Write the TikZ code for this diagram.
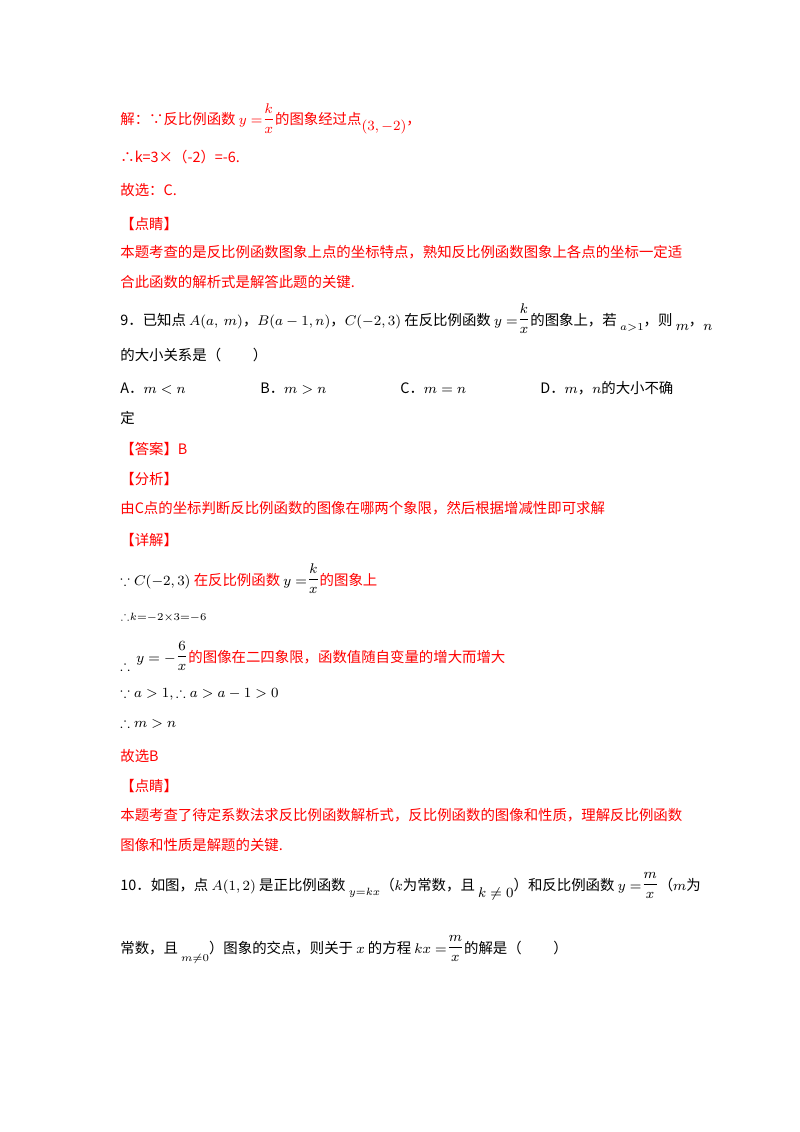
\documentclass[tikz,border=0pt]{standalone}
\usepackage{amsmath,amssymb}
\usepackage{fontspec}
\newfontfamily\cjk{Noto Sans CJK SC}
\definecolor{ans}{RGB}{255,0,0}
\newcommand{\fr}[2]{\raisebox{1pt}{$\dfrac{#1}{#2}$}}
\begin{document}
\begin{tikzpicture}[x=0.02cm,y=-0.02cm,
 txt/.style={anchor=base west,inner sep=0,font=\cjk\fontsize{8.2}{10}\selectfont},
 red/.style={txt,text=ans}]
\useasboundingbox (0,0) rectangle (800,1132);
\node[red] (l1) at (120,125) {解：∵反比例函数 $y=$\fr{k}{x}的图象经过点\raisebox{-3pt}{$(3,-2)$}，};
\node[red] (l2) at (120,162) {∴k=3×（-2）=-6.};
\node[red] (l3) at (120,195) {故选：C.};
\node[red] (l4) at (120,229) {【点睛】};
\node[red] (l5) at (120,257) {本题考查的是反比例函数图象上点的坐标特点，熟知反比例函数图象上各点的坐标一定适};
\node[red] (l6) at (120,287) {合此函数的解析式是解答此题的关键.};
\node[txt] (q9) at (120,325) {9．已知点 $A(a,\ m)$，$B(a-1,n)$，$C(-2,3)$ 在反比例函数 $y=$\fr{k}{x}的图象上，若 \raisebox{-3pt}{$\scriptstyle a>1$}，则 \raisebox{-3pt}{$m$}，\raisebox{-3pt}{$n$}};
\node[txt] (q9b) at (120,360) {的大小关系是（\hspace{2.2em}）};
\node[txt] (oa) at (120,393) {A．$m<n$};
\node[txt] (ob) at (260,393) {B．$m>n$};
\node[txt] (oc) at (400,393) {C．$m=n$};
\node[txt] (od) at (540,393) {D．$m$，$n$的大小不确};
\node[txt] (od2) at (120,423) {定};
\node[red] (l7) at (120,454) {【答案】B};
\node[red] (l8) at (120,484) {【分析】};
\node[red] (l9) at (120,513) {由C点的坐标判断反比例函数的图像在哪两个象限，然后根据增减性即可求解};
\node[red] (l10) at (120,545) {【详解】};
\node[txt] (l11) at (120,585) {$\because C(-2,3)$ \textcolor{ans}{在反比例函数} $y=$\fr{k}{x}\textcolor{ans}{的图象上}};
\node[txt] (l12) at (120,620) {$\scriptstyle\therefore k=-2\times3=-6$};
\node[txt] (l13) at (120,662) {\raisebox{-5pt}{$\therefore$}\ \ $y=-$\fr{6}{x}\textcolor{ans}{的图像在二四象限，函数值随自变量的增大而增大}};
\node[txt] (l14) at (120,697) {$\because a>1,\therefore a>a-1>0$};
\node[txt] (l15) at (120,727) {$\therefore m>n$};
\node[red] (l16) at (120,761) {故选B};
\node[red] (l17) at (120,791) {【点睛】};
\node[red] (l18) at (120,820) {本题考查了待定系数法求反比例函数解析式，反比例函数的图像和性质，理解反比例函数};
\node[red] (l19) at (120,850) {图像和性质是解题的关键.};
\node[txt] (q10) at (120,890) {10．如图，点 $A(1,2)$ 是正比例函数 \raisebox{-3pt}{$\scriptstyle y=kx$}（$k$为常数，且 \raisebox{-4pt}{$k\neq0$}）和反比例函数 $y=$\fr{m}{x}（$m$为};
\node[txt] (q10b) at (120,953) {常数，且 \raisebox{-5pt}{$\scriptstyle m\neq0$}）图象的交点，则关于 $x$ 的方程 $kx=$\fr{m}{x}的解是（\hspace{2.2em}）};
\end{tikzpicture}
\end{document}
